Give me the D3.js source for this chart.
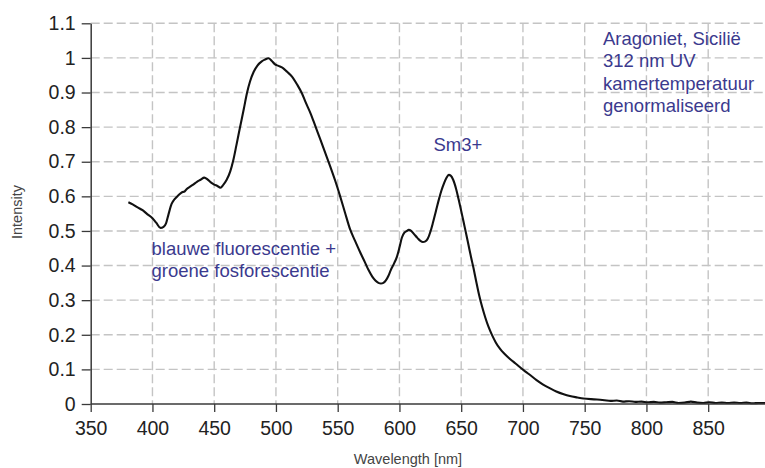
<!DOCTYPE html>
<html>
<head>
<meta charset="utf-8">
<script src="https://cdn.jsdelivr.net/npm/d3@7"></script>
<style>
  html, body { margin: 0; padding: 0; background: #ffffff; }
  svg { display: block; }
  text { font-family: "Liberation Sans", Arial, sans-serif; }
</style>
</head>
<body>
<svg id="chart" width="765" height="468"></svg>
<script>
// Emission spectrum: wavelength (nm) and normalised intensity
const wavelength = [
  380.5, 384, 388, 392, 396, 400, 403, 406.5, 409, 411, 413, 415.5, 418, 421, 424, 426, 428, 430.5,
  433, 436, 439, 442, 444.5, 447, 450, 452.5, 455, 457.5, 460, 463, 465.5, 468, 471, 474, 476.5,
  479, 482, 485, 488.5, 491, 494, 496.5, 499, 502, 506, 509, 513, 517, 521, 524, 528, 532, 536,
  540, 544, 548, 552, 556, 560, 564, 568, 572, 575, 578, 580.5, 583, 585, 587, 589, 591, 593,
  595.5, 598, 600, 602, 604, 606, 607.5, 609.5, 612, 614.5, 617, 619, 621, 623, 625, 627, 629.5,
  632, 634, 636, 638, 640, 641.5, 643.5, 646, 648, 650, 652, 654, 656, 658, 660, 662, 664.5, 667,
  669.5, 672, 675, 678, 681.5, 685, 689.5, 694, 700.5, 705, 711, 716, 722, 727, 733, 738, 744,
  749, 755, 760, 766, 771, 776, 781, 786, 791, 796, 801, 806, 811, 816, 821, 826, 831, 836, 841,
  846, 851, 856, 861, 866, 871, 876, 881, 886, 891, 896
];
const intensity = [
  0.583, 0.577, 0.568, 0.560, 0.548, 0.537, 0.524, 0.509, 0.512, 0.522, 0.548, 0.578, 0.592, 0.603, 0.612, 0.614, 0.622, 0.628,
  0.634, 0.642, 0.648, 0.654, 0.649, 0.641, 0.634, 0.630, 0.625, 0.634, 0.647, 0.672, 0.705, 0.748, 0.801, 0.853, 0.898,
  0.932, 0.960, 0.978, 0.990, 0.995, 0.999, 0.992, 0.982, 0.977, 0.970, 0.960, 0.946, 0.924, 0.898, 0.872, 0.840, 0.802, 0.764,
  0.725, 0.686, 0.645, 0.600, 0.552, 0.505, 0.472, 0.440, 0.410, 0.387, 0.368, 0.357, 0.350, 0.348, 0.350, 0.357, 0.370, 0.387,
  0.405, 0.426, 0.452, 0.481, 0.495, 0.500, 0.503, 0.500, 0.490, 0.480, 0.471, 0.468, 0.470, 0.478, 0.497, 0.522, 0.557,
  0.592, 0.617, 0.637, 0.653, 0.662, 0.660, 0.648, 0.620, 0.590, 0.558, 0.525, 0.492, 0.458, 0.424, 0.392, 0.357, 0.315, 0.280,
  0.250, 0.224, 0.199, 0.178, 0.159, 0.145, 0.130, 0.117, 0.098, 0.086, 0.069, 0.057, 0.045, 0.036, 0.028, 0.023, 0.019,
  0.016, 0.014, 0.013, 0.011, 0.009, 0.010, 0.007, 0.008, 0.006, 0.007, 0.005, 0.006, 0.004, 0.005, 0.006, 0.003, 0.004, 0.007, 0.004,
  0.003, 0.005, 0.003, 0.004, 0.003, 0.004, 0.003, 0.004, 0.002, 0.003, 0.003
];

// Axis ticks
const xTicks = [350, 400, 450, 500, 550, 600, 650, 700, 750, 800, 850];
const yTicks = [0, 0.1, 0.2, 0.3, 0.4, 0.5, 0.6, 0.7, 0.8, 0.9, 1, 1.1];

// Text labels
const xTitle = "Wavelength [nm]";
const yTitle = "Intensity";
const infoLines = ["Aragoniet, Sicilië", "312 nm UV", "kamertemperatuur", "genormaliseerd"];
const peakLabel = "Sm3+";
const bandLines = ["blauwe fluorescentie +", "groene fosforescentie"];

const svg = d3.select("#chart");
const x = d3.scaleLinear().domain([350, 896]).range([90.7, 765]);
const y = d3.scaleLinear().domain([0, 1.1]).range([404, 23.3]);

const gridColor = "#c4c4c4";
const axisColor = "#3a3a3a";
const noteColor = "#3b3a8e";

// dashed grid
const grid = svg.append("g");
grid.selectAll("line.h").data(yTicks.filter(d => d > 0)).join("line")
  .attr("x1", x(350)).attr("x2", 765)
  .attr("y1", d => y(d)).attr("y2", d => y(d))
  .attr("stroke", gridColor).attr("stroke-width", 1.4).attr("stroke-dasharray", "9,4");
grid.selectAll("line.v").data(xTicks.filter(d => d > 350)).join("line")
  .attr("x1", d => x(d)).attr("x2", d => x(d))
  .attr("y1", y(1.1)).attr("y2", y(0))
  .attr("stroke", gridColor).attr("stroke-width", 1.4).attr("stroke-dasharray", "9,4");

// spectrum
const pts = wavelength.map((w, i) => [w, intensity[i]]);
svg.append("path")
  .datum(pts)
  .attr("fill", "none")
  .attr("stroke", "#111")
  .attr("stroke-width", 2.1)
  .attr("stroke-linejoin", "round")
  .attr("d", d3.line().x(d => x(d[0])).y(d => y(d[1])).curve(d3.curveMonotoneX));

// axes
const fmt = d => String(Math.round(d * 10) / 10);
const xAxis = svg.append("g").attr("transform", `translate(0,${y(0)})`)
  .call(d3.axisBottom(x).tickValues(xTicks).tickFormat(d => d).tickSize(8).tickPadding(9).tickSizeOuter(0));
const yAxis = svg.append("g").attr("transform", `translate(${x(350)},0)`)
  .call(d3.axisLeft(y).tickValues(yTicks).tickFormat(fmt).tickSize(9).tickPadding(6).tickSizeOuter(0));
[xAxis, yAxis].forEach(g => {
  g.select(".domain").attr("stroke", axisColor).attr("stroke-width", 1.5);
  g.selectAll(".tick line").attr("stroke", axisColor).attr("stroke-width", 1.3);
  g.selectAll(".tick text").attr("fill", "#222").style("font-size", "19.5px")
    .style("font-family", "'Liberation Sans', Arial, sans-serif");
});
xAxis.select(".domain").attr("d", `M${x(350)},0H765`);

// axis titles
svg.append("text").attr("x", 408).attr("y", 464)
  .attr("text-anchor", "middle").attr("fill", "#444").style("font-size", "14.5px").text(xTitle);
svg.append("text").attr("transform", "translate(22,212) rotate(-90)")
  .attr("text-anchor", "middle").attr("fill", "#444").style("font-size", "14.5px").text(yTitle);

// annotations
const info = svg.append("text").attr("fill", noteColor).style("font-size", "18.5px");
infoLines.forEach((t, i) => info.append("tspan").attr("x", 603).attr("y", 45 + i * 22.3).text(t));

svg.append("text").attr("x", 433.5).attr("y", 150.5).attr("fill", noteColor)
  .style("font-size", "18.5px").text(peakLabel);

const band = svg.append("text").attr("fill", noteColor).style("font-size", "18.5px");
bandLines.forEach((t, i) => band.append("tspan").attr("x", 151.5).attr("y", 254.5 + i * 22).text(t));
</script>
</body>
</html>
